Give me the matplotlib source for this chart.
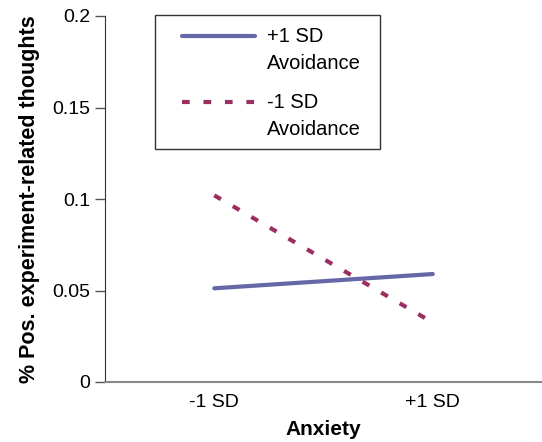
import matplotlib
matplotlib.use("Agg")
import matplotlib.pyplot as plt
from matplotlib.patches import Rectangle

plt.rcParams['font.family'] = ['Liberation Sans', 'DejaVu Sans']

categories = ["-1 SD", "+1 SD"]
high_avoid = [0.0512, 0.0590]
low_avoid = [0.1020, 0.0325]
yticks = [0, 0.05, 0.1, 0.15, 0.2]
ytick_labels = ["0", "0.05", "0.1", "0.15", "0.2"]

W, H = 542, 442
fig = plt.figure(figsize=(W / 100, H / 100), dpi=100)
ax = fig.add_axes([105 / W, 1 - 382 / H, 437 / W, 366 / H])

x = list(range(len(categories)))
ax.plot(x, high_avoid, color="#6567a6", lw=3, solid_capstyle="round",
        label="+1 SD\nAvoidance")
ax.plot(x, low_avoid, color="#9b2f62", lw=3, linestyle=(0, (1.85, 3.3)),
        label="-1 SD\nAvoidance")

ax.set_xlim(-0.5, 1.5)
ax.set_ylim(0, 0.2)
ax.set_yticks(yticks)
ax.set_yticklabels(ytick_labels, fontsize=14)
ax.set_xticks(x)
ax.set_xticklabels(categories, fontsize=14)
ax.tick_params(axis='x', length=0, pad=8.5)
ax.tick_params(axis='y', length=7.2, width=1, color="#555555", pad=3.5)

ax.spines['top'].set_visible(False)
ax.spines['right'].set_visible(False)
ax.spines['left'].set_color("#333333")
ax.spines['bottom'].set_color("#888888")
ax.spines['bottom'].set_linewidth(1.5)

ax.set_xlabel("Anxiety", fontsize=15, fontweight="bold", labelpad=6.5)
ax.set_ylabel("% Pos. experiment-related thoughts", fontsize=15.5,
              fontweight="bold", labelpad=9)

# legend content (frame drawn separately)
leg = ax.legend(loc="upper left",
                bbox_to_anchor=(182 / W, 1 - 27 / H),
                bbox_transform=fig.transFigure,
                fontsize=14.5, frameon=False, handlelength=3.6,
                handletextpad=0.6, borderpad=0, labelspacing=0.95,
                borderaxespad=0)
for t in leg.get_texts():
    t.set_linespacing(1.56)
for ln in leg.get_lines():
    yd = ln.get_ydata()
    ln.set_ydata([v + 10.4 for v in yd])

fig.add_artist(Rectangle((155 / W, 1 - 149 / H), 225 / W, 134 / H,
                         transform=fig.transFigure, fill=False,
                         edgecolor="#333333", lw=1.0))

fig.savefig("out.png", dpi=100)
